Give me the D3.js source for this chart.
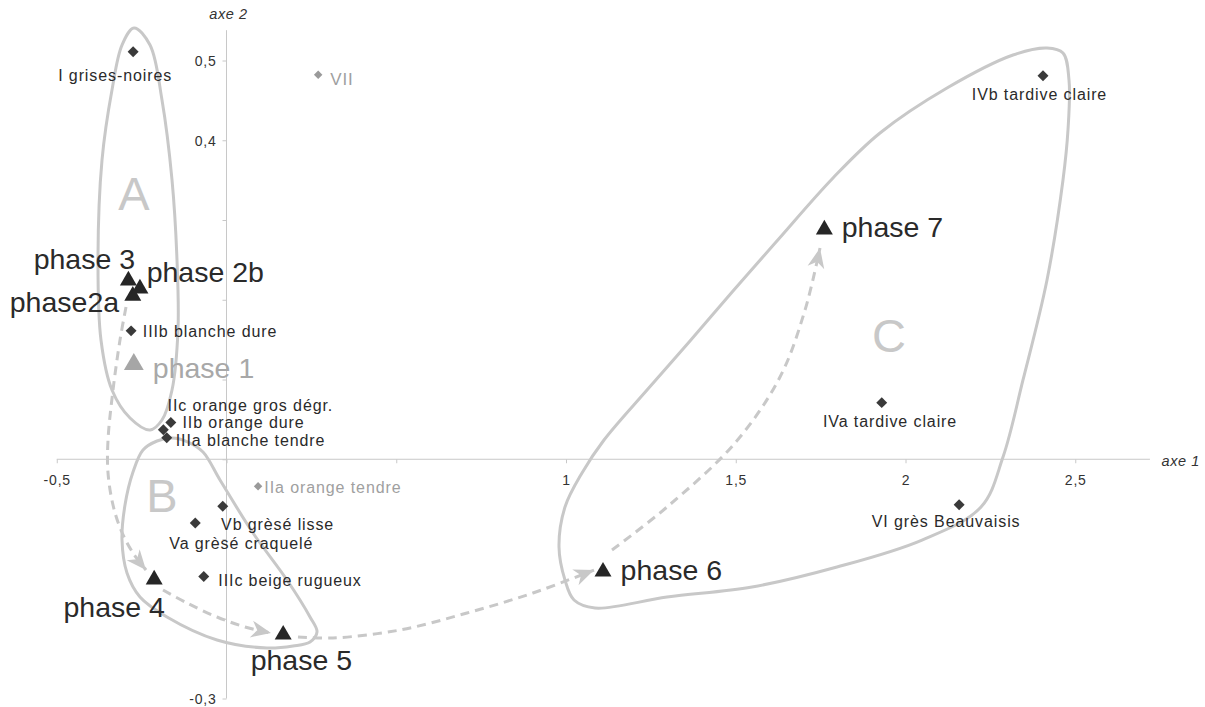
<!DOCTYPE html>
<html>
<head>
<meta charset="utf-8">
<script src="https://cdn.jsdelivr.net/npm/d3@7"></script>
<style>
  html, body { margin: 0; padding: 0; background: #fff; }
  svg { display: block; font-family: "Liberation Sans", Arial, sans-serif; }
</style>
</head>
<body>
<svg id="chart" width="1205" height="707"></svg>
<script>
// ---------------- DATA ----------------
// Reference groups (diamonds)
const refNames = ["I grises-noires", "VII", "IVb tardive claire", "IIIb blanche dure",
  "IIc orange gros dégr.", "IIb orange dure", "IIIa blanche tendre", "IIa orange tendre",
  "Vb grèsé lisse", "Va grèsé craquelé", "IIIc beige rugueux", "IVa tardive claire", "VI grès Beauvaisis"];
const refAxis1 = [-0.275, 0.270, 2.405, -0.281, -0.186, -0.164, -0.176, 0.093, -0.011, -0.092, -0.067, 1.930, 2.158];
const refAxis2 = [0.511, 0.482, 0.481, 0.161, 0.037, 0.046, 0.027, -0.034, -0.059, -0.080, -0.147, 0.071, -0.057];
const refMuted = [false, true, false, false, false, false, false, true, false, false, false, false, false];

// Phases (triangles)
const phaseNames = ["phase 1", "phase2a", "phase 2b", "phase 3", "phase 4", "phase 5", "phase 6", "phase 7"];
const phaseAxis1 = [-0.273, -0.276, -0.255, -0.289, -0.213, 0.167, 1.109, 1.761];
const phaseAxis2 = [0.119, 0.205, 0.214, 0.224, -0.151, -0.220, -0.141, 0.288];
const phaseMuted = [true, false, false, false, false, false, false, false];

// Ticks
const xTicks = [-0.5, 0, 0.5, 1, 1.5, 2, 2.5];
const xTickLabels = ["-0,5", "", "", "1", "1,5", "2", "2,5"];
const yTicks = [-0.3, -0.2, -0.1, 0, 0.1, 0.2, 0.3, 0.4, 0.5];
const yTickLabels = ["-0,3", "", "", "", "", "", "", "0,4", "0,5"];
const axisTitles = ["axe 1", "axe 2"];

// Group outlines (data coordinates)
const hullNames = ["A", "B", "C"];
const hullLetterAxis1 = [-0.2725, -0.19, 1.9514];
const hullLetterAxis2 = [0.3125, -0.0661, 0.1345];
const hullA = [[-0.2725,0.5408],[-0.2253,0.5194],[-0.19,0.4505],[-0.1605,0.3502],[-0.1458,0.2498],[-0.1429,0.1621],
  [-0.1605,0.0868],[-0.19,0.0492],[-0.2253,0.0367],[-0.2842,0.0517],[-0.3373,0.0868],[-0.3697,0.1495],
  [-0.3785,0.2498],[-0.3667,0.3752],[-0.3373,0.463],[-0.3078,0.5194]];
const hullB = [[-0.246,0.0116],[-0.2047,0.0229],[-0.1605,0.0266],[-0.1134,0.0216],[-0.0692,0.0091],[-0.0191,-0.026],
  [0.0781,-0.0925],[0.1782,-0.1514],[0.246,-0.1978],[0.2666,-0.2166],[0.246,-0.2292],[0.1959,-0.2342],
  [0.1193,-0.2367],[-0.028,-0.2266],[-0.1753,-0.1978],[-0.2548,-0.1727],[-0.2931,-0.1426],[-0.3078,-0.1013],
  [-0.299,-0.0574],[-0.2754,-0.016]];
const hullC = [[1.1119,0.0241],[1.2386,0.0868],[1.3652,0.1483],[1.4919,0.211],[1.6186,0.2724],[1.7865,0.3527],
  [1.9249,0.4091],[2.1222,0.4655],[2.3166,0.5069],[2.4168,0.5157],[2.4639,0.5094],[2.4816,0.4755],
  [2.4786,0.4129],[2.4639,0.3502],[2.4168,0.2248],[2.3461,0.0994],[2.2872,0.0028],[2.2224,-0.0599],
  [2.0486,-0.1013],[1.7982,-0.1351],[1.5479,-0.1602],[1.2975,-0.1727],[1.0854,-0.1865],[1.0236,-0.1765],
  [0.997,-0.1514],[0.9794,-0.11],[0.997,-0.0599],[1.0471,-0.0172]];

// Trajectory arrows (data coordinates)
const arrow1 = [[-0.296,0.1909],[-0.3137,0.1495],[-0.3343,0.0868],[-0.349,0.0241],[-0.349,-0.0172],[-0.3343,-0.0574],
  [-0.3108,-0.0887],[-0.2754,-0.1176],[-0.2371,-0.1389]];
const arrow2 = [[-0.187,-0.164],[-0.1163,-0.1803],[-0.028,-0.1978],[0.0545,-0.2103],[0.1311,-0.2179]];
const arrow3 = [[0.2106,-0.2229],[0.3137,-0.2241],[0.511,-0.2141],[0.7084,-0.1928],[0.9028,-0.1677],[1.0825,-0.1389]];
const arrow4 = [[1.1355,-0.1138],[1.2975,-0.0599],[1.4978,0.0204],[1.6303,0.1031],[1.704,0.1871],[1.7482,0.2649]];

// ---------------- LAYOUT ----------------
const refLabelLayout = [
  [-18, 29, "middle"], [12, 10, "start"], [-3.5, 24.5, "middle"], [11.7, 5.7, "start"],
  [4.2, -18.3, "start"], [11.7, 5, "start"], [9, 8.7, "start"], [6.3, 6.7, "start"],
  [-1.7, 24, "start"], [-26, 25.6, "start"], [14.6, 10, "start"], [8.3, 24, "middle"], [-13, 22, "middle"]];
const phaseLabelLayout = [
  [19, 14, "start"], [-13.7, 16.2, "end"], [6.7, -6.6, "start"], [6.7, -12, "end"],
  [10.7, 37.4, "end"], [18.2, 35, "middle"], [17.6, 8, "start"], [17.4, 7.4, "start"]];

const svg = d3.select("#chart");
const x = d3.scaleLinear().domain([-0.5, 2.5]).range([56.75, 1075.25]);
const y = d3.scaleLinear().domain([-0.3, 0.5]).range([698.5, 60.5]);

const GREY = "#c8c8c8";

// Axes
const axisG = svg.append("g");
axisG.append("line").attr("x1", x(-0.5)).attr("x2", x(2.72)).attr("y1", y(0)).attr("y2", y(0))
  .attr("stroke", GREY).attr("stroke-width", 1);
axisG.append("line").attr("x1", x(0)).attr("x2", x(0)).attr("y1", y(-0.3)).attr("y2", y(0.538))
  .attr("stroke", GREY).attr("stroke-width", 1);

const xAxis = d3.axisBottom(x).tickValues(xTicks)
  .tickFormat((d, i) => xTickLabels[i]).tickSize(4).tickSizeOuter(0);
const gx = svg.append("g").attr("transform", `translate(0,${y(0)})`).call(xAxis);
gx.select(".domain").remove();
gx.selectAll(".tick line").attr("stroke", GREY);
gx.selectAll(".tick text").attr("y", 26).attr("dy", 0)
  .attr("font-size", 14).attr("fill", "#333").attr("letter-spacing", "0.8px")
  .attr("font-family", "'Liberation Sans', Arial, sans-serif");

const yAxis = d3.axisLeft(y).tickValues(yTicks)
  .tickFormat((d, i) => yTickLabels[i]).tickSize(4).tickSizeOuter(0);
const gy = svg.append("g").attr("transform", `translate(${x(0)},0)`).call(yAxis);
gy.select(".domain").remove();
gy.selectAll(".tick line").attr("stroke", GREY);
gy.selectAll(".tick text").attr("x", -10).attr("dy", "0.38em")
  .attr("font-size", 14).attr("fill", "#333").attr("letter-spacing", "0.8px")
  .attr("font-family", "'Liberation Sans', Arial, sans-serif");

svg.append("text").text(axisTitles[0]).attr("x", 1200).attr("y", y(0) + 7)
  .attr("text-anchor", "end").attr("font-style", "italic").attr("font-size", 14.5)
  .attr("letter-spacing", "0.6px").attr("fill", "#333");
svg.append("text").text(axisTitles[1]).attr("x", x(0) + 2).attr("y", 19)
  .attr("text-anchor", "middle").attr("font-style", "italic").attr("font-size", 14.5)
  .attr("letter-spacing", "0.6px").attr("fill", "#333");

// Hulls
const hullLine = d3.line().x(d => x(d[0])).y(d => y(d[1])).curve(d3.curveCatmullRomClosed.alpha(0.5));
svg.append("g").selectAll("path").data([hullA, hullB, hullC]).join("path")
  .attr("d", hullLine).attr("fill", "none").attr("stroke", GREY).attr("stroke-width", 3);

// Hull letters
svg.append("g").selectAll("text").data(hullNames).join("text")
  .text(d => d).attr("x", (d, i) => x(hullLetterAxis1[i])).attr("y", (d, i) => y(hullLetterAxis2[i]))
  .attr("text-anchor", "middle").attr("font-size", 47).attr("fill", GREY);

// Arrows
const defs = svg.append("defs");
defs.append("marker").attr("id", "arrowhead").attr("viewBox", "-22 -10 24 20")
  .attr("refX", 0).attr("refY", 0).attr("markerWidth", 24).attr("markerHeight", 20)
  .attr("markerUnits", "userSpaceOnUse").attr("orient", "auto")
  .append("path").attr("d", "M0,0 L-20,-8.5 L-14,0 L-20,8.5 Z").attr("fill", GREY);
const arrowLine = d3.line().x(d => x(d[0])).y(d => y(d[1])).curve(d3.curveCatmullRom.alpha(0.5));
svg.append("g").selectAll("path").data([arrow1, arrow2, arrow3, arrow4]).join("path")
  .attr("d", arrowLine).attr("fill", "none").attr("stroke", GREY).attr("stroke-width", 3)
  .attr("stroke-dasharray", "9 6").attr("marker-end", "url(#arrowhead)");

// Diamonds
const refIdx = d3.range(refNames.length);
const diamond = d3.symbol().type(d3.symbolSquare);
svg.append("g").selectAll("path").data(refIdx).join("path")
  .attr("d", i => diamond.size(refMuted[i] ? 36 : 60)())
  .attr("transform", i => `translate(${x(refAxis1[i])},${y(refAxis2[i])}) rotate(45)`)
  .attr("fill", i => refMuted[i] ? "#9a9a9a" : "#3a3a3a");

svg.append("g").selectAll("text").data(refIdx).join("text")
  .text(i => refNames[i])
  .attr("x", i => x(refAxis1[i]) + refLabelLayout[i][0])
  .attr("y", i => y(refAxis2[i]) + refLabelLayout[i][1])
  .attr("text-anchor", i => refLabelLayout[i][2])
  .attr("font-size", i => i === 1 ? 17 : 16)
  .attr("letter-spacing", "0.9px")
  .attr("fill", i => refMuted[i] ? "#a0a0a0" : "#2a2a2a");

// Triangles
const phaseIdx = d3.range(phaseNames.length);
const tri = d3.symbol().type(d3.symbolTriangle);
svg.append("g").selectAll("path").data(phaseIdx).join("path")
  .attr("d", i => tri.size(phaseMuted[i] ? 170 : 125)())
  .attr("transform", i => `translate(${x(phaseAxis1[i])},${y(phaseAxis2[i])})`)
  .attr("fill", i => phaseMuted[i] ? "#a6a6a6" : "#262626");

svg.append("g").selectAll("text").data(phaseIdx).join("text")
  .text(i => phaseNames[i])
  .attr("x", i => x(phaseAxis1[i]) + phaseLabelLayout[i][0])
  .attr("y", i => y(phaseAxis2[i]) + phaseLabelLayout[i][1])
  .attr("text-anchor", i => phaseLabelLayout[i][2])
  .attr("font-size", 28.5)
  .attr("fill", i => phaseMuted[i] ? "#a8a8a8" : "#2a2a2a");
</script>
</body>
</html>
